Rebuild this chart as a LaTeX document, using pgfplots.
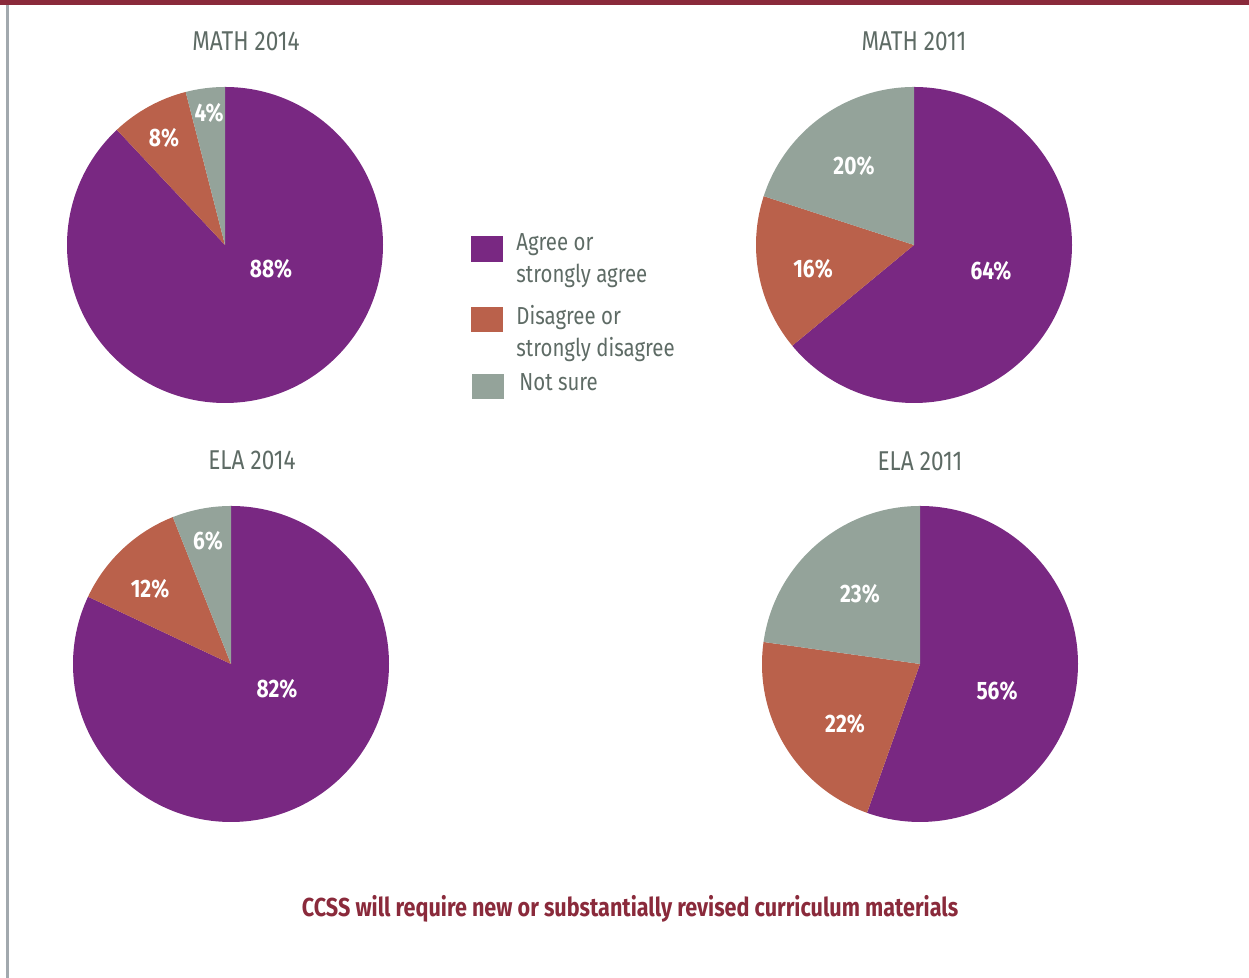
\documentclass[border=0pt]{standalone}
\usepackage{pgfplots}
\pgfplotsset{compat=1.18}
\usepackage{fontspec}
\setmainfont{Fira Sans}[FakeStretch=0.83]
\definecolor{cpurple}{HTML}{792882}
\definecolor{corange}{HTML}{BA614B}
\definecolor{cgray}{HTML}{94A39A}
\definecolor{ctext}{HTML}{5E6B65}
\definecolor{cred}{HTML}{8A2A3B}
\definecolor{cline}{HTML}{A2A9AE}
% #1,#2 centre (px), #3 agree, #4 disagree, #5 not sure
\newcommand{\pie}[5]{%
  \fill[cpurple] (axis cs:#1,#2) -- ++(90:79pt)
     arc[start angle=90, end angle={90-#3/(#3+#4+#5)*360}, radius=79pt] -- cycle;
  \fill[corange] (axis cs:#1,#2) -- ++({90-#3/(#3+#4+#5)*360}:79pt)
     arc[start angle={90-#3/(#3+#4+#5)*360}, end angle={90-(#3+#4)/(#3+#4+#5)*360}, radius=79pt] -- cycle;
  \fill[cgray] (axis cs:#1,#2) -- ++({90-(#3+#4)/(#3+#4+#5)*360}:79pt)
     arc[start angle={90-(#3+#4)/(#3+#4+#5)*360}, end angle=-270, radius=79pt] -- cycle;
}
\newcommand{\lbl}[3]{\node[text=white,font=\fontsize{12.6}{15}\selectfont\bfseries] at (axis cs:#1,#2) {#3};}
\newcommand{\ttl}[3]{\node[text=ctext,font=\fontsize{13.6}{16}\selectfont] at (axis cs:#1,#2) {#3};}
\begin{document}
\begin{tikzpicture}
\begin{axis}[
  scale only axis, width=624.5pt, height=489pt,
  xmin=0, xmax=1249, ymin=0, ymax=978,
  hide axis, clip=false]
% frame decorations
\fill[cred] (axis cs:0,973) rectangle (axis cs:1249,978);
\fill[cline] (axis cs:6,0) rectangle (axis cs:8.5,973);
% pies: agree, disagree, not sure
\pie{225}{733}{88}{8}{4}
\pie{914}{733}{64}{16}{20}
\pie{231}{314}{82}{12}{6}
\pie{920}{314}{56}{22}{23}
% value labels
\lbl{271}{709}{88\%}
\lbl{164}{840}{8\%}
\lbl{209}{865}{4\%}
\lbl{991}{707}{64\%}
\lbl{813}{709}{16\%}
\lbl{854}{812}{20\%}
\lbl{277}{289}{82\%}
\lbl{150}{389}{12\%}
\lbl{208}{437}{6\%}
\lbl{997}{287}{56\%}
\lbl{845}{254}{22\%}
\lbl{860}{384}{23\%}
% titles
\ttl{246}{937}{MATH 2014}
\ttl{914}{937}{MATH 2011}
\ttl{252}{518}{ELA 2014}
\ttl{920}{517}{ELA 2011}
% legend
\fill[cpurple] (axis cs:471,716) rectangle (axis cs:503,742);
\fill[corange] (axis cs:471,646) rectangle (axis cs:503,671);
\fill[cgray] (axis cs:472,579) rectangle (axis cs:504,604);
\begin{scope}[every node/.style={text=ctext,font=\fontsize{12.3}{14}\selectfont,anchor=base west,inner sep=0pt}]
\node at (axis cs:516,727) {Agree or};
\node at (axis cs:516,695) {strongly agree};
\node at (axis cs:516,653) {Disagree or};
\node at (axis cs:516,621) {strongly disagree};
\node at (axis cs:519,587) {Not sure};
\end{scope}
% bottom caption
\node[text=cred,font=\fontsize{13}{15}\selectfont\bfseries] at (axis cs:630,69) {CCSS will require new or substantially revised curriculum materials};
\end{axis}
\pgfresetboundingbox
\path[use as bounding box] (0,0) rectangle (624.5pt,489pt);
\end{tikzpicture}
\end{document}
